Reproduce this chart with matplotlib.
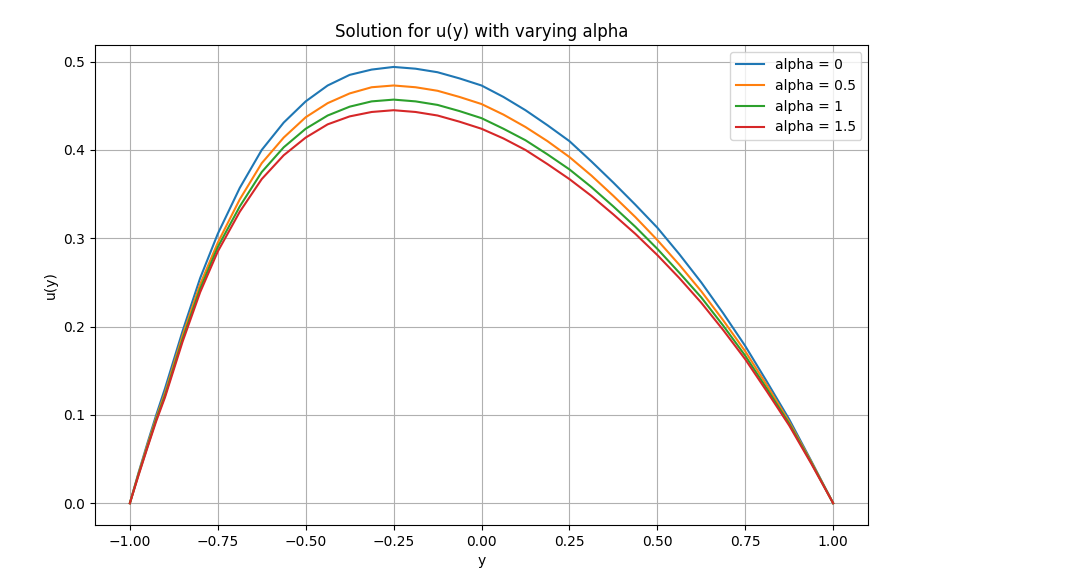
import matplotlib
matplotlib.use("Agg")
import matplotlib.pyplot as plt

# values
y = [-1.0, -0.975, -0.95, -0.925, -0.9, -0.85, -0.8, -0.75, -0.6875, -0.625,
     -0.5625, -0.5, -0.4375, -0.375, -0.3125, -0.25, -0.1875, -0.125, -0.0625, 0.0,
     0.0625, 0.125, 0.1875, 0.25, 0.3125, 0.375, 0.4375, 0.5, 0.5625, 0.625,
     0.6875, 0.75, 0.8125, 0.875, 0.9375, 1.0]
u_alpha_0 = [0, 0.035, 0.068, 0.10, 0.13, 0.195, 0.255, 0.305, 0.357, 0.40,
             0.431, 0.455, 0.473, 0.485, 0.491, 0.494, 0.492, 0.488, 0.481, 0.473,
             0.460, 0.445, 0.428, 0.41, 0.387, 0.363, 0.338, 0.312, 0.282, 0.25,
             0.215, 0.178, 0.137, 0.095, 0.048, 0]
u_alpha_05 = [0, 0.034, 0.066, 0.097, 0.125, 0.19, 0.248, 0.295, 0.344, 0.385,
              0.414, 0.437, 0.453, 0.464, 0.471, 0.473, 0.471, 0.467, 0.460, 0.452,
              0.440, 0.426, 0.410, 0.392, 0.371, 0.348, 0.324, 0.298, 0.270, 0.24,
              0.207, 0.172, 0.133, 0.092, 0.047, 0]
u_alpha_1 = [0, 0.033, 0.064, 0.095, 0.122, 0.186, 0.243, 0.29, 0.336, 0.375,
             0.403, 0.424, 0.439, 0.449, 0.455, 0.457, 0.455, 0.451, 0.444, 0.436,
             0.424, 0.411, 0.395, 0.378, 0.358, 0.336, 0.313, 0.288, 0.261, 0.233,
             0.201, 0.167, 0.129, 0.09, 0.046, 0]
u_alpha_15 = [0, 0.032, 0.063, 0.093, 0.12, 0.183, 0.239, 0.285, 0.330, 0.367,
              0.394, 0.414, 0.429, 0.438, 0.443, 0.445, 0.443, 0.439, 0.432, 0.424,
              0.413, 0.40, 0.384, 0.367, 0.348, 0.327, 0.305, 0.281, 0.255, 0.227,
              0.196, 0.163, 0.126, 0.088, 0.045, 0]
alphas = ["0", "0.5", "1", "1.5"]
series = [u_alpha_0, u_alpha_05, u_alpha_1, u_alpha_15]

fig = plt.figure(figsize=(10.76, 5.86), dpi=100)
ax = fig.add_axes([0.088, 0.104, 0.719, 0.819])
for a, u in zip(alphas, series):
    ax.plot(y, u, label="alpha = %s" % a)
ax.set_title("Solution for u(y) with varying alpha")
ax.set_xlabel("y")
ax.set_ylabel("u(y)")
ax.grid(True)
ax.legend(loc="upper right")
fig.savefig("out.png", dpi=100)
